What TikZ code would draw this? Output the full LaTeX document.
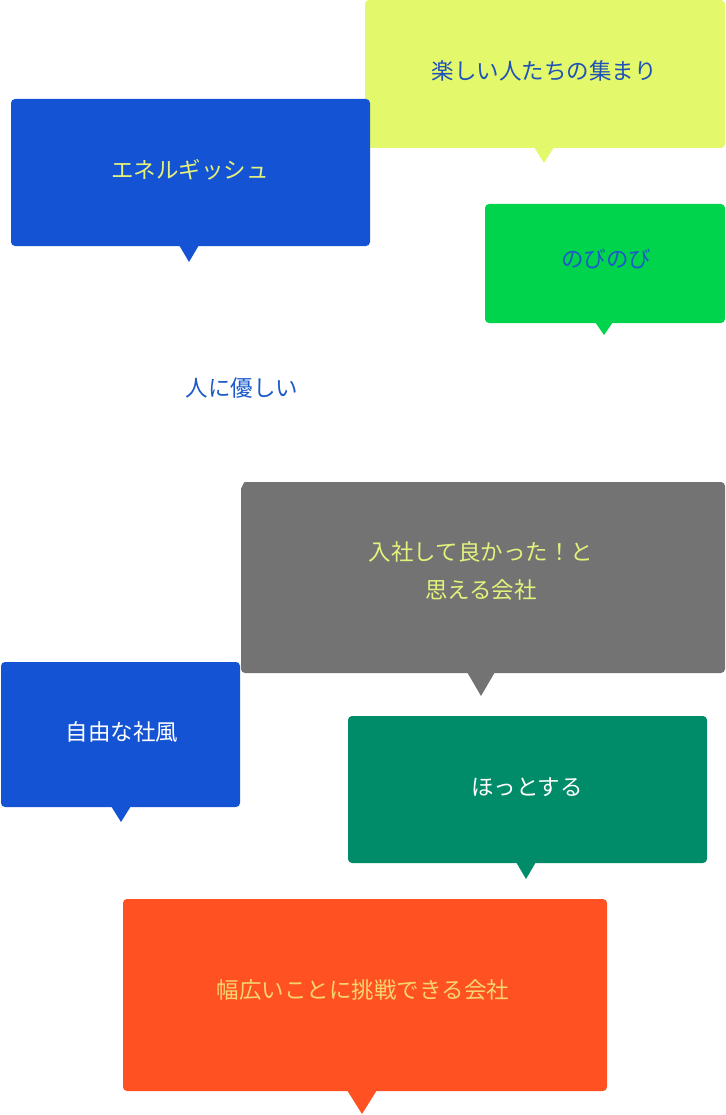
\documentclass[tikz,border=0pt]{standalone}
\usepackage{fontspec}
\newfontfamily\jpfont{Noto Sans CJK JP}
\definecolor{cyel}{HTML}{E4F86B}
\definecolor{cblue}{HTML}{1454D4}
\definecolor{cgreen}{HTML}{00D44D}
\definecolor{cgray}{HTML}{737373}
\definecolor{cteal}{HTML}{008B69}
\definecolor{corange}{HTML}{FF5122}
\definecolor{tdblue}{HTML}{1F52B8}
\definecolor{tblue}{HTML}{1C5AC8}
\definecolor{tlyel}{HTML}{E4F27C}
\definecolor{toryel}{HTML}{F6D46E}
\begin{document}
\begin{tikzpicture}[x=1pt,y=-1pt,
  box/.style={rounded corners=4pt, inner sep=0pt, draw=none, outer sep=0pt},
  lbl/.style={font=\jpfont\fontsize{22.5pt}{38pt}\selectfont, inner sep=0pt, align=center}]
\useasboundingbox[fill=white] (0,0) rectangle (725,1115);

% yellow
\node[box, fill=cyel, minimum width=360pt, minimum height=148pt] (b1) at (545,74) {};
\fill[cyel] (534,147) -- (544,163) -- (554,147) -- cycle;
\node[lbl, text=tdblue] (t1) at (544,71) {楽しい人たちの集まり};

% blue 1
\node[box, fill=cblue, minimum width=359pt, minimum height=147pt] (b2) at (190.5,172.5) {};
\fill[cblue] (179,245) -- (189,262) -- (199,245) -- cycle;
\node[lbl, text=tlyel] (t2) at (190,170) {エネルギッシュ};

% green
\node[box, fill=cgreen, minimum width=240pt, minimum height=119pt] (b3) at (605,263.5) {};
\fill[cgreen] (595,322) -- (604,335) -- (613,322) -- cycle;
\node[lbl, text=tblue] (t3) at (606,259) {のびのび};

% gray
\node[box, fill=cgray, minimum width=484pt, minimum height=191pt] (b5) at (483,577.5) {};
\fill[cgray] (467,672) -- (481,696) -- (495,672) -- cycle;
\node[lbl, text=tlyel] (t5) at (481,571) {入社して良かった！と\\思える会社};

% white
\node[box, fill=white, minimum width=244pt, minimum height=160pt] (b4) at (242,392) {};
\fill[white] (226,471) -- (238,494) -- (250,471) -- cycle;
\node[lbl, text=tblue] (t4) at (242,388) {人に優しい};

% blue 2
\node[box, fill=cblue, minimum width=239pt, minimum height=145pt] (b6) at (120.5,734.5) {};
\fill[cblue] (111,806) -- (121,822) -- (131,806) -- cycle;
\node[lbl, text=white] (t6) at (122,732) {自由な社風};

% teal
\node[box, fill=cteal, minimum width=359pt, minimum height=147pt] (b7) at (527.5,789.5) {};
\fill[cteal] (516,862) -- (526,879) -- (536,862) -- cycle;
\node[lbl, text=white] (t7) at (527,787) {ほっとする};

% orange
\node[box, fill=corange, minimum width=484pt, minimum height=192pt] (b8) at (365,995) {};
\fill[corange] (347,1090) -- (362,1114) -- (377,1090) -- cycle;
\node[lbl, text=toryel] (t8) at (363,990) {幅広いことに挑戦できる会社};
\end{tikzpicture}
\end{document}
